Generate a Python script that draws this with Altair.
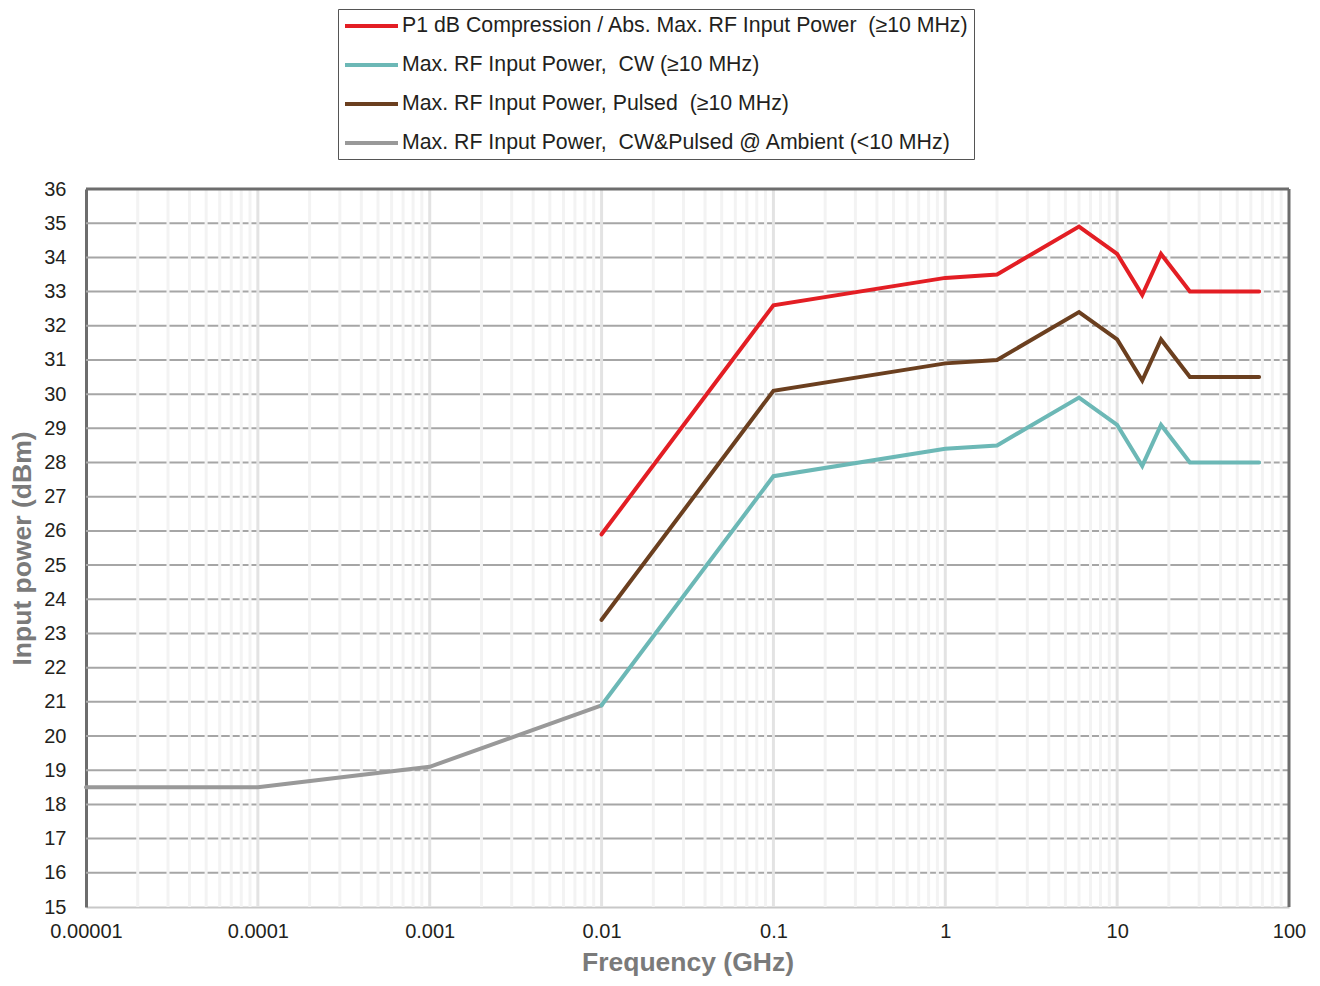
import altair as alt
import pandas as pd

# ---------------- data ----------------
series_names = [
    "P1 dB Compression / Abs. Max. RF Input Power\u00a0 (\u226510 MHz)",
    "Max. RF Input Power,\u00a0 CW (\u226510 MHz)",
    "Max. RF Input Power, Pulsed\u00a0 (\u226510 MHz)",
    "Max. RF Input Power,\u00a0 CW&Pulsed @ Ambient (<10 MHz)",
]
series_colors = ["#e31e24", "#6cb8b6", "#6b3f1f", "#999999"]

freq_hi = [0.01, 0.1, 1, 2, 6, 10, 14, 18, 26.5, 67]
p1_db = [25.9, 32.6, 33.4, 33.5, 34.9, 34.1, 32.9, 34.1, 33.0, 33.0]
cw = [20.9, 27.6, 28.4, 28.5, 29.9, 29.1, 27.9, 29.1, 28.0, 28.0]
pulsed = [23.4, 30.1, 30.9, 31.0, 32.4, 31.6, 30.4, 31.6, 30.5, 30.5]

freq_amb = [0.00001, 0.0001, 0.001, 0.01]
ambient = [18.5, 18.5, 19.1, 20.9]

x_ticks = [0.00001, 0.0001, 0.001, 0.01, 0.1, 1, 10, 100]
x_tick_labels = ["0.00001", "0.0001", "0.001", "0.01", "0.1", "1", "10", "100"]
y_ticks = list(range(15, 37))
x_minor = [m * d for d in [0.00001, 0.0001, 0.001, 0.01, 0.1, 1, 10] for m in range(2, 10)]
x_major_inner = [0.0001, 0.001, 0.01, 0.1, 1, 10]
h_grid = list(range(16, 36))

# ---------------- table ----------------
rows = []
for name, fx, fy, order in [
    (series_names[3], freq_amb, ambient, 0),
    (series_names[1], freq_hi, cw, 1),
    (series_names[2], freq_hi, pulsed, 2),
    (series_names[0], freq_hi, p1_db, 3),
]:
    for i, (f, v) in enumerate(zip(fx, fy)):
        rows.append({"series": name, "freq": f, "power": v, "idx": i, "order": order})
df = pd.DataFrame(rows)

W, H = 1203, 718
FONT = "Liberation Sans"

xscale = alt.Scale(type="log", domain=[0.00001, 100], nice=False)
yscale = alt.Scale(domain=[15, 36], nice=False, zero=False)

label_expr = "[" + ",".join("'%s'" % s for s in x_tick_labels) + "][round(log(datum.value)/LN10)+5]"

x_axis = alt.Axis(
    values=x_ticks,
    labelExpr=label_expr,
    title="Frequency (GHz)",
    grid=False,
    ticks=False,
    domainColor="#c8c8c8",
    domainWidth=2,
    labelFont=FONT,
    labelFontSize=20,
    labelColor="#231f20",
    labelPadding=14,
    labelFlush=False,
    titleFont=FONT,
    titleFontSize=26.5,
    titleFontWeight="bold",
    titleColor="#7a7a7a",
    titlePadding=8,
)
y_axis = alt.Axis(
    values=y_ticks,
    title="Input power (dBm)",
    grid=False,
    ticks=False,
    domainColor="#6d6d6d",
    domainWidth=3,
    labelFont=FONT,
    labelFontSize=20,
    labelColor="#231f20",
    labelPadding=20,
    labelFlush=False,
    titleFont=FONT,
    titleFontSize=26.5,
    titleFontWeight="bold",
    titleColor="#7a7a7a",
    titlePadding=7,
)

hgrid = alt.Chart(pd.DataFrame({"y": h_grid})).mark_rule(
    color="#a6a6a6", strokeWidth=2
).encode(y=alt.Y("y:Q", scale=yscale, axis=y_axis))

vminor = alt.Chart(pd.DataFrame({"x": x_minor})).mark_rule(
    color="#f3f3f3", strokeWidth=3
).encode(x=alt.X("x:Q", scale=xscale, axis=x_axis))

vmajor = alt.Chart(pd.DataFrame({"x": x_major_inner})).mark_rule(
    color="#e3e3e3", strokeWidth=3
).encode(x=alt.X("x:Q", scale=xscale, axis=x_axis))

lines = alt.Chart(df).mark_line(strokeWidth=4, strokeCap="round", strokeJoin="miter").encode(
    x=alt.X("freq:Q", scale=xscale, axis=x_axis),
    y=alt.Y("power:Q", scale=yscale, axis=y_axis),
    color=alt.Color(
        "series:N",
        scale=alt.Scale(domain=series_names, range=series_colors),
        legend=alt.Legend(
            orient="none",
            legendX=252,
            legendY=-180,
            title=None,
            symbolType="M-1,0H4.3",
            symbolSize=400,
            symbolStrokeWidth=4,
            labelFont=FONT,
            labelFontSize=21.3,
            labelColor="#231f20",
            labelLimit=0,
            labelOffset=35,
            strokeColor="#555555",
            fillColor="white",
            padding=5,
            rowPadding=16,
        ),
    ),
    order=alt.Order("idx:Q"),
    detail="order:N",
)

frame_df = pd.DataFrame({"a": [0]})
top_rule = alt.Chart(frame_df).mark_rule(color="#6d6d6d", strokeWidth=3).encode(
    x=alt.value(0), x2=alt.value(W), y=alt.value(0)
)
right_rule = alt.Chart(frame_df).mark_rule(color="#6d6d6d", strokeWidth=3).encode(
    x=alt.value(W), y=alt.value(0), y2=alt.value(H)
)

chart = (
    alt.layer(hgrid, vminor, vmajor, lines, top_rule, right_rule)
    .properties(
        width=W,
        height=H,
        autosize=alt.AutoSizeParams(type="none"),
        padding={"left": 78, "top": 181, "right": 20, "bottom": 71},
        background="white",
    )
    .configure_view(stroke=None)
)

chart.save("out.html", embed_options={"renderer": "svg", "actions": False})
